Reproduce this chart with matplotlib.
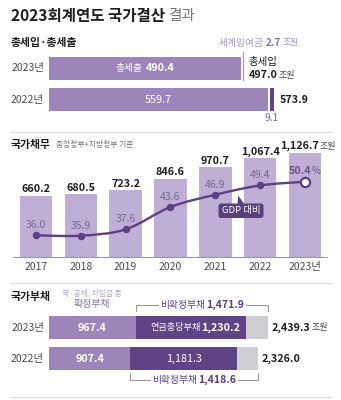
import matplotlib
matplotlib.use('Agg')
import matplotlib.pyplot as plt
from matplotlib.patches import FancyBboxPatch, Polygon, PathPatch
from matplotlib.path import Path
from matplotlib.transforms import offset_copy
import numpy as np

plt.rcParams['font.family'] = ['Noto Sans CJK KR', 'DejaVu Sans']

# ---- data -------------------------------------------------------------
budget_years = ['2023년', '2022년']
expenditure = [490.4, 559.7]          # 총세출
revenue = [497.0, 573.9]              # 총세입
surplus_2023 = 2.7                    # 세계잉여금
carryover_2022 = 9.1

debt_years = ['2017', '2018', '2019', '2020', '2021', '2022', '2023년']
national_debt = [660.2, 680.5, 723.2, 846.6, 970.7, 1067.4, 1126.7]
debt_to_gdp = [36.0, 35.9, 37.6, 43.6, 46.9, 49.4, 50.4]

liab_years = ['2023년', '2022년']
fixed_liab = [967.4, 907.4]           # 확정부채
pension_liab = [1230.2, 1181.3]       # 연금충당부채
nonfixed_liab = [1471.9, 1418.6]      # 비확정부채
total_liab = [2439.3, 2326.0]

# ---- styling ----------------------------------------------------------
PURPLE = '#9b85b9'
LIGHT = '#bfaed5'
DARK = '#5e4484'
LINE = '#5b4180'
GRAYBAR = '#cfcfd3'
INK = '#1e1e1e'
SUB = '#4a4a4a'
RULE = '#dcdcdc'

W, H = 341, 400
fig = plt.figure(figsize=(W / 100, H / 100), dpi=100)
fig.patch.set_facecolor('white')
renderer = fig.canvas.get_renderer()


def px_axes(x0, y0, x1, y1):
    ax = fig.add_axes([x0 / W, 1 - y1 / H, (x1 - x0) / W, (y1 - y0) / H])
    ax.set_axis_off()
    ax.patch.set_alpha(0)
    return ax


def rich(ax, x, y, parts, ha='left', va='center', dx=0, dy=0):
    """Draw a run of differently styled text pieces; returns total width in px."""
    widths = []
    for s, kw, gap in parts:
        t = fig.text(0, 0, s, **kw)
        widths.append(t.get_window_extent(renderer).width + gap)
        t.remove()
    total = sum(widths)
    off = {'left': 0, 'center': -total / 2, 'right': -total}[ha]
    for (s, kw, gap), w in zip(parts, widths):
        tr = offset_copy(ax.transData, fig=fig, x=off + dx, y=dy, units='dots')
        ax.text(x, y, s, transform=tr, ha='left', va=va, **kw)
        off += w
    return total


def fmt(v):
    return f'{v:,.1f}'


# overlay in pixel coordinates for headings, rules and the callout
ov = px_axes(0, 0, W, H)
ov.set_xlim(0, W)
ov.set_ylim(H, 0)
ov.set_zorder(10)

rich(ov, 11, 16, [('2023회계연도 국가결산', dict(fontsize=11.2, fontweight='bold', color=INK), 3),
                  ('결과', dict(fontsize=10.5, color='#777777'), 0)])

for yy in (132, 283, 397):
    ov.plot([10, 331], [yy, yy], color=RULE, lw=0.8)

# ---- 총세입·총세출 ------------------------------------------------------
ov.text(11, 43, '총세입·총세출', fontsize=7.8, fontweight='bold', color=INK, va='center')

SC1 = 0.3913
ax1 = px_axes(49, 45, 341, 125)
ax1.set_xlim(0, (341 - 49) / SC1)
ax1.set_ylim((125 - 68.3) / 31.4, (45 - 68.3) / 31.4)
yb = np.arange(len(budget_years))
bh = 0.73
ax1.barh(yb, expenditure, height=bh, color=PURPLE)
ax1.barh(1, carryover_2022, left=revenue[1] - carryover_2022, height=bh, color=DARK)
ax1.plot([revenue[0], revenue[0]], [(52 - 68.3) / 31.4, bh / 2], color='#a9a9a9', lw=1.0)

for i, lab in enumerate(budget_years):
    ax1.text(0, i, lab, transform=offset_copy(ax1.transData, fig=fig, x=-5, units='dots'),
             ha='right', va='center', fontsize=7.5, color=SUB)

rich(ax1, expenditure[0] / 2, 0, [('총세출', dict(fontsize=7, color='white'), 3),
                                  (fmt(expenditure[0]), dict(fontsize=7.8, color='white', fontweight='bold'), 0)],
     ha='center')
rich(ax1, expenditure[1] / 2, 1, [(fmt(expenditure[1]), dict(fontsize=7.8, color='white'), 0)], ha='center')

rich(ax1, revenue[0], 0, [('총세입', dict(fontsize=7.5, color=INK), 0)], dx=5, dy=6)
rich(ax1, revenue[0], 0, [(fmt(revenue[0]), dict(fontsize=7.8, color=INK, fontweight='bold'), 1),
                          ('조원', dict(fontsize=6.5, color=SUB), 0)], dx=5, dy=-7)
rich(ax1, revenue[1], 1, [(fmt(revenue[1]), dict(fontsize=7.8, color=INK, fontweight='bold'), 0)], dx=6)
rich(ax1, revenue[1] - carryover_2022 / 2, 1, [(fmt(carryover_2022), dict(fontsize=7.3, color='#7a64a0'), 0)],
     ha='center', dy=-18)
rich(ax1, revenue[0], 0, [('세계잉여금', dict(fontsize=7, color='#a793c2'), 2),
                          (fmt(surplus_2023), dict(fontsize=7.3, color='#8a74aa', fontweight='bold'), 1),
                          ('조원', dict(fontsize=6.3, color='#a793c2'), 0)], ha='center', dy=25.5, dx=15)

# ---- 국가채무 -----------------------------------------------------------
ov.text(11, 145, '국가채무', fontsize=7.8, fontweight='bold', color=INK, va='center')
ov.text(56, 145.5, '중앙정부+지방정부 기준', fontsize=5.6, color='#707070', va='center')

SC2 = 0.093
ax2 = px_axes(10, 148, 331, 257.3)
ax2.set_xlim(-0.58, 6.58)
ax2.set_ylim(0, (257.3 - 148) / SC2)
xd = np.arange(len(debt_years))
ax2.bar(xd, national_debt, width=0.725, color=LIGHT, zorder=1)
ax2.plot([-0.52, 6.5], [0, 0], color='#9a9a9a', lw=0.8, clip_on=False)
for i, (lab, v) in enumerate(zip(debt_years, national_debt)):
    ax2.text(i, 0, lab, transform=offset_copy(ax2.transData, fig=fig, y=-10, units='dots'),
             ha='center', va='center', fontsize=7.5, color=SUB)
    if i < len(debt_years) - 1:
        rich(ax2, i, v, [(fmt(v), dict(fontsize=7.8, color=INK, fontweight='bold'), 0)],
             ha='center', va='bottom', dy=1.5)
    else:
        rich(ax2, i, v, [(fmt(v), dict(fontsize=7.8, color=INK, fontweight='bold'), 0.5),
                         ('조원', dict(fontsize=6.5, color=SUB), 0)],
             ha='center', va='bottom', dy=1.5, dx=3)

ax2t = ax2.twinx()
ax2t.set_axis_off()
ax2t.set_ylim(36 - (257.3 - 235.3) / 3.72, 50.4 + (181.7 - 148) / 3.72)

# smooth Catmull-Rom curve through the ratio points
pts = np.column_stack([xd, debt_to_gdp]).astype(float)
ext = np.vstack([pts[0], pts, pts[-1]])
verts = [tuple(pts[0])]
codes = [Path.MOVETO]
for k in range(len(pts) - 1):
    p0, p1, p2, p3 = ext[k], ext[k + 1], ext[k + 2], ext[k + 3]
    c1 = p1 + (p2 - p0) / 6
    c2 = p2 - (p3 - p1) / 6
    verts += [tuple(c1), tuple(c2), tuple(p2)]
    codes += [Path.CURVE4] * 3
ax2t.add_patch(PathPatch(Path(verts, codes), fill=False, edgecolor=LINE, lw=1.7,
                         capstyle='round', zorder=3))
ax2t.plot(xd[:-1], debt_to_gdp[:-1], 'o', ms=4.4, color=LINE, zorder=4)
ax2t.plot(xd[-1:], debt_to_gdp[-1:], 'o', ms=6.6, mfc='white', mec=LINE, mew=1.6, zorder=5)
for i, v in enumerate(debt_to_gdp):
    if i < len(debt_to_gdp) - 1:
        ax2t.text(i, v, f'{v:.1f}', transform=offset_copy(ax2t.transData, fig=fig, y=10, units='dots'),
                  ha='center', va='center', fontsize=7.5, color='#7a6898')
    else:
        rich(ax2t, i, v, [(f'{v:.1f}', dict(fontsize=7.8, color='#6c5293', fontweight='bold'), 0),
                          ('%', dict(fontsize=7, color='#6c5293'), 0)], ha='center', dy=11)

# "GDP 대비" callout
ov.add_patch(Polygon([(237.5, 204.5), (244.5, 204.5), (238.2, 195.5)], closed=True,
                     facecolor='#59407d', edgecolor='none', zorder=6))
ov.add_patch(FancyBboxPatch((218.5, 203.5), 45, 14.5, boxstyle='round,pad=0,rounding_size=2.5',
                            facecolor='#59407d', edgecolor='none', zorder=6))
ov.text(241, 211, 'GDP 대비', fontsize=6.8, color='white', ha='center', va='center', zorder=7)

# ---- 국가부채 -----------------------------------------------------------
ov.text(11, 297, '국가부채', fontsize=7.8, fontweight='bold', color=INK, va='center')
ov.text(92, 293, '국·공채, 차입금 등', fontsize=5.6, color='#b4a8c6', ha='center', va='center')
ov.text(92, 304, '확정부채', fontsize=7.2, color='#8670a8', ha='center', va='center', fontweight='medium')

SC3 = 0.0898
ax3 = px_axes(49, 300, 341, 392)
ax3.set_xlim(0, (341 - 49) / SC3)
ax3.set_ylim((392 - 327.8) / 31, (300 - 327.8) / 31)
yl = np.arange(len(liab_years))
rest = [n - p for n, p in zip(nonfixed_liab, pension_liab)]
left2 = [f + p for f, p in zip(fixed_liab, pension_liab)]
ax3.barh(yl, fixed_liab, height=bh, color=PURPLE)
ax3.barh(yl, pension_liab, left=fixed_liab, height=bh, color=DARK)
ax3.barh(yl, rest, left=left2, height=bh, color=GRAYBAR)

for i, lab in enumerate(liab_years):
    ax3.text(0, i, lab, transform=offset_copy(ax3.transData, fig=fig, x=-5, units='dots'),
             ha='right', va='center', fontsize=7.5, color=SUB)
    rich(ax3, fixed_liab[i] / 2, i, [(fmt(fixed_liab[i]), dict(fontsize=7.8, color='white', fontweight='bold'), 0)],
         ha='center')

rich(ax3, fixed_liab[0] + pension_liab[0] / 2, 0,
     [('연금충당부채', dict(fontsize=6.6, color='white'), 1),
      (fmt(pension_liab[0]), dict(fontsize=7.8, color='white', fontweight='bold'), 0)], ha='center', dx=4)
rich(ax3, fixed_liab[1] + pension_liab[1] / 2, 1,
     [(fmt(pension_liab[1]), dict(fontsize=7.8, color='white'), 0)], ha='center')

rich(ax3, total_liab[0], 0, [(fmt(total_liab[0]), dict(fontsize=7.8, color=INK, fontweight='bold'), 0.5),
                             ('조원', dict(fontsize=6.5, color=SUB), 0)], dx=4)
rich(ax3, total_liab[1], 1, [(fmt(total_liab[1]), dict(fontsize=7.8, color=INK, fontweight='bold'), 0)], dx=4)

# brackets for 비확정부채
bracket_spec = [(0, (305 - 327.8) / 31, (311.5 - 327.8) / 31),
                (1, (380 - 327.8) / 31, (373 - 327.8) / 31)]
for i, yline, ytick in bracket_spec:
    x0, x1 = fixed_liab[i], total_liab[i]
    xc = (x0 + x1) / 2
    tw = rich(ax3, xc, yline, [('비확정부채', dict(fontsize=7, color='#5a3f7e', fontweight='medium'), 0.5),
                               (fmt(nonfixed_liab[i]), dict(fontsize=7.6, color='#5a3f7e', fontweight='bold'), 0)],
              ha='center')
    half = (tw / 2 + 2.5) / SC3
    kw = dict(color='#9a9a9a', lw=0.8, clip_on=False)
    ax3.plot([x0, x0, xc - half], [ytick, yline, yline], **kw)
    ax3.plot([xc + half, x1, x1], [yline, yline, ytick], **kw)

fig.savefig('out.png', dpi=100)
